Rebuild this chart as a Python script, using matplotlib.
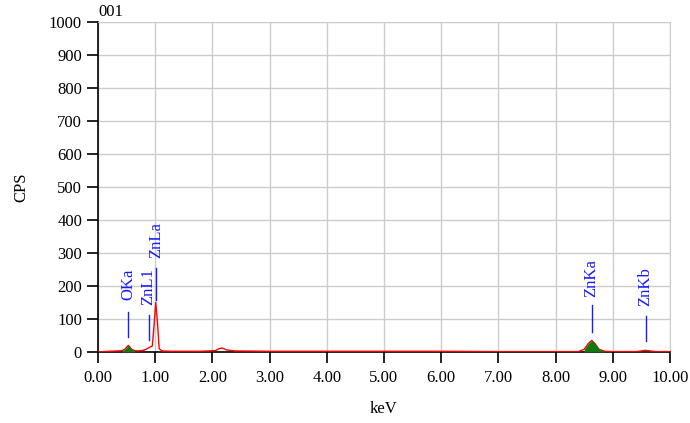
import matplotlib
matplotlib.use("Agg")
import matplotlib.pyplot as plt
import numpy as np

plt.rcParams["font.family"] = ["Liberation Serif", "DejaVu Serif"]

# spectrum (keV, CPS)
energy = [0.00, 0.20, 0.35, 0.42, 0.47, 0.51, 0.53, 0.55, 0.59, 0.64, 0.70, 0.80, 0.86, 0.90, 0.95,
          0.98, 1.01, 1.04, 1.07, 1.12, 1.30, 1.80, 2.05, 2.12, 2.17, 2.25, 2.40, 3.00, 4.00, 5.00,
          6.00, 7.00, 8.00, 8.40, 8.50, 8.57, 8.63, 8.69, 8.76, 8.86, 9.00, 9.40, 9.50, 9.57, 9.65,
          9.75, 10.00]
cps = [0, 2, 3, 4, 8, 16, 20, 16, 8, 4, 3, 5, 10, 14, 18,
       80, 150, 90, 10, 3, 2, 2, 4, 10, 12, 6, 3, 2, 2, 2,
       2, 1, 1, 1, 8, 25, 35, 25, 8, 2, 1, 1, 3, 5, 3,
       1, 1]

# peak identification markers
peak_names = ["OKa", "ZnL1", "ZnLa", "ZnKa", "ZnKb"]
peak_energy = [0.525, 0.884, 1.012, 8.630, 9.572]
marker_lo = [45, 36, 157, 61, 33]
marker_hi = [121, 112, 255, 142, 109]
label_base = [158, 142, 285, 167, 140]

energy = np.array(energy)
cps = np.array(cps)

fig = plt.figure(figsize=(6.9, 4.23), dpi=100)
ax = fig.add_axes([0.142, 0.168, 0.829, 0.780])

ax.plot(energy, cps, color="#ff0000", lw=1.0, zorder=3)

# filled regions for identified lines, drawn over the trace
for lo, hi, col in [(0.40, 0.66, "#0f7a0f"), (8.45, 8.88, "#0f7a0f"), (9.42, 9.72, "#333333")]:
    m = (energy >= lo) & (energy <= hi)
    ax.fill_between(energy[m], 0, cps[m], color=col, lw=0, zorder=4)

for name, e, lo, hi, lb in zip(peak_names, peak_energy, marker_lo, marker_hi, label_base):
    ax.plot([e, e], [lo, hi], color="#1a1aff", lw=1.0, zorder=5)
    ax.text(e, lb, name, rotation=90, color="#1a1aff", fontsize=12,
            ha="center", va="bottom", zorder=5)

ax.set_xlim(0, 10)
ax.set_ylim(0, 1000)
ax.set_xticks(np.arange(0, 10.01, 1))
ax.set_xticklabels([f"{v:.2f}" for v in np.arange(0, 10.01, 1)])
ax.set_yticks(np.arange(0, 1001, 100))
ax.grid(True, color="#cccccc", lw=1.0)
ax.set_axisbelow(True)
ax.tick_params(direction="out", length=8, width=1.2, labelsize=12, colors="#000000")
ax.tick_params(axis="x", pad=5)
for side in ["top", "right"]:
    ax.spines[side].set_color("#cccccc")
for side in ["left", "bottom"]:
    ax.spines[side].set_color("#000000")
    ax.spines[side].set_linewidth(1.2)

ax.set_xlabel("keV", fontsize=12, labelpad=11)
ax.set_ylabel("CPS", fontsize=12, labelpad=14)
ax.text(0.0, 1.005, "001", transform=ax.transAxes, fontsize=12, va="bottom", ha="left")

fig.savefig("out.png", dpi=100)
